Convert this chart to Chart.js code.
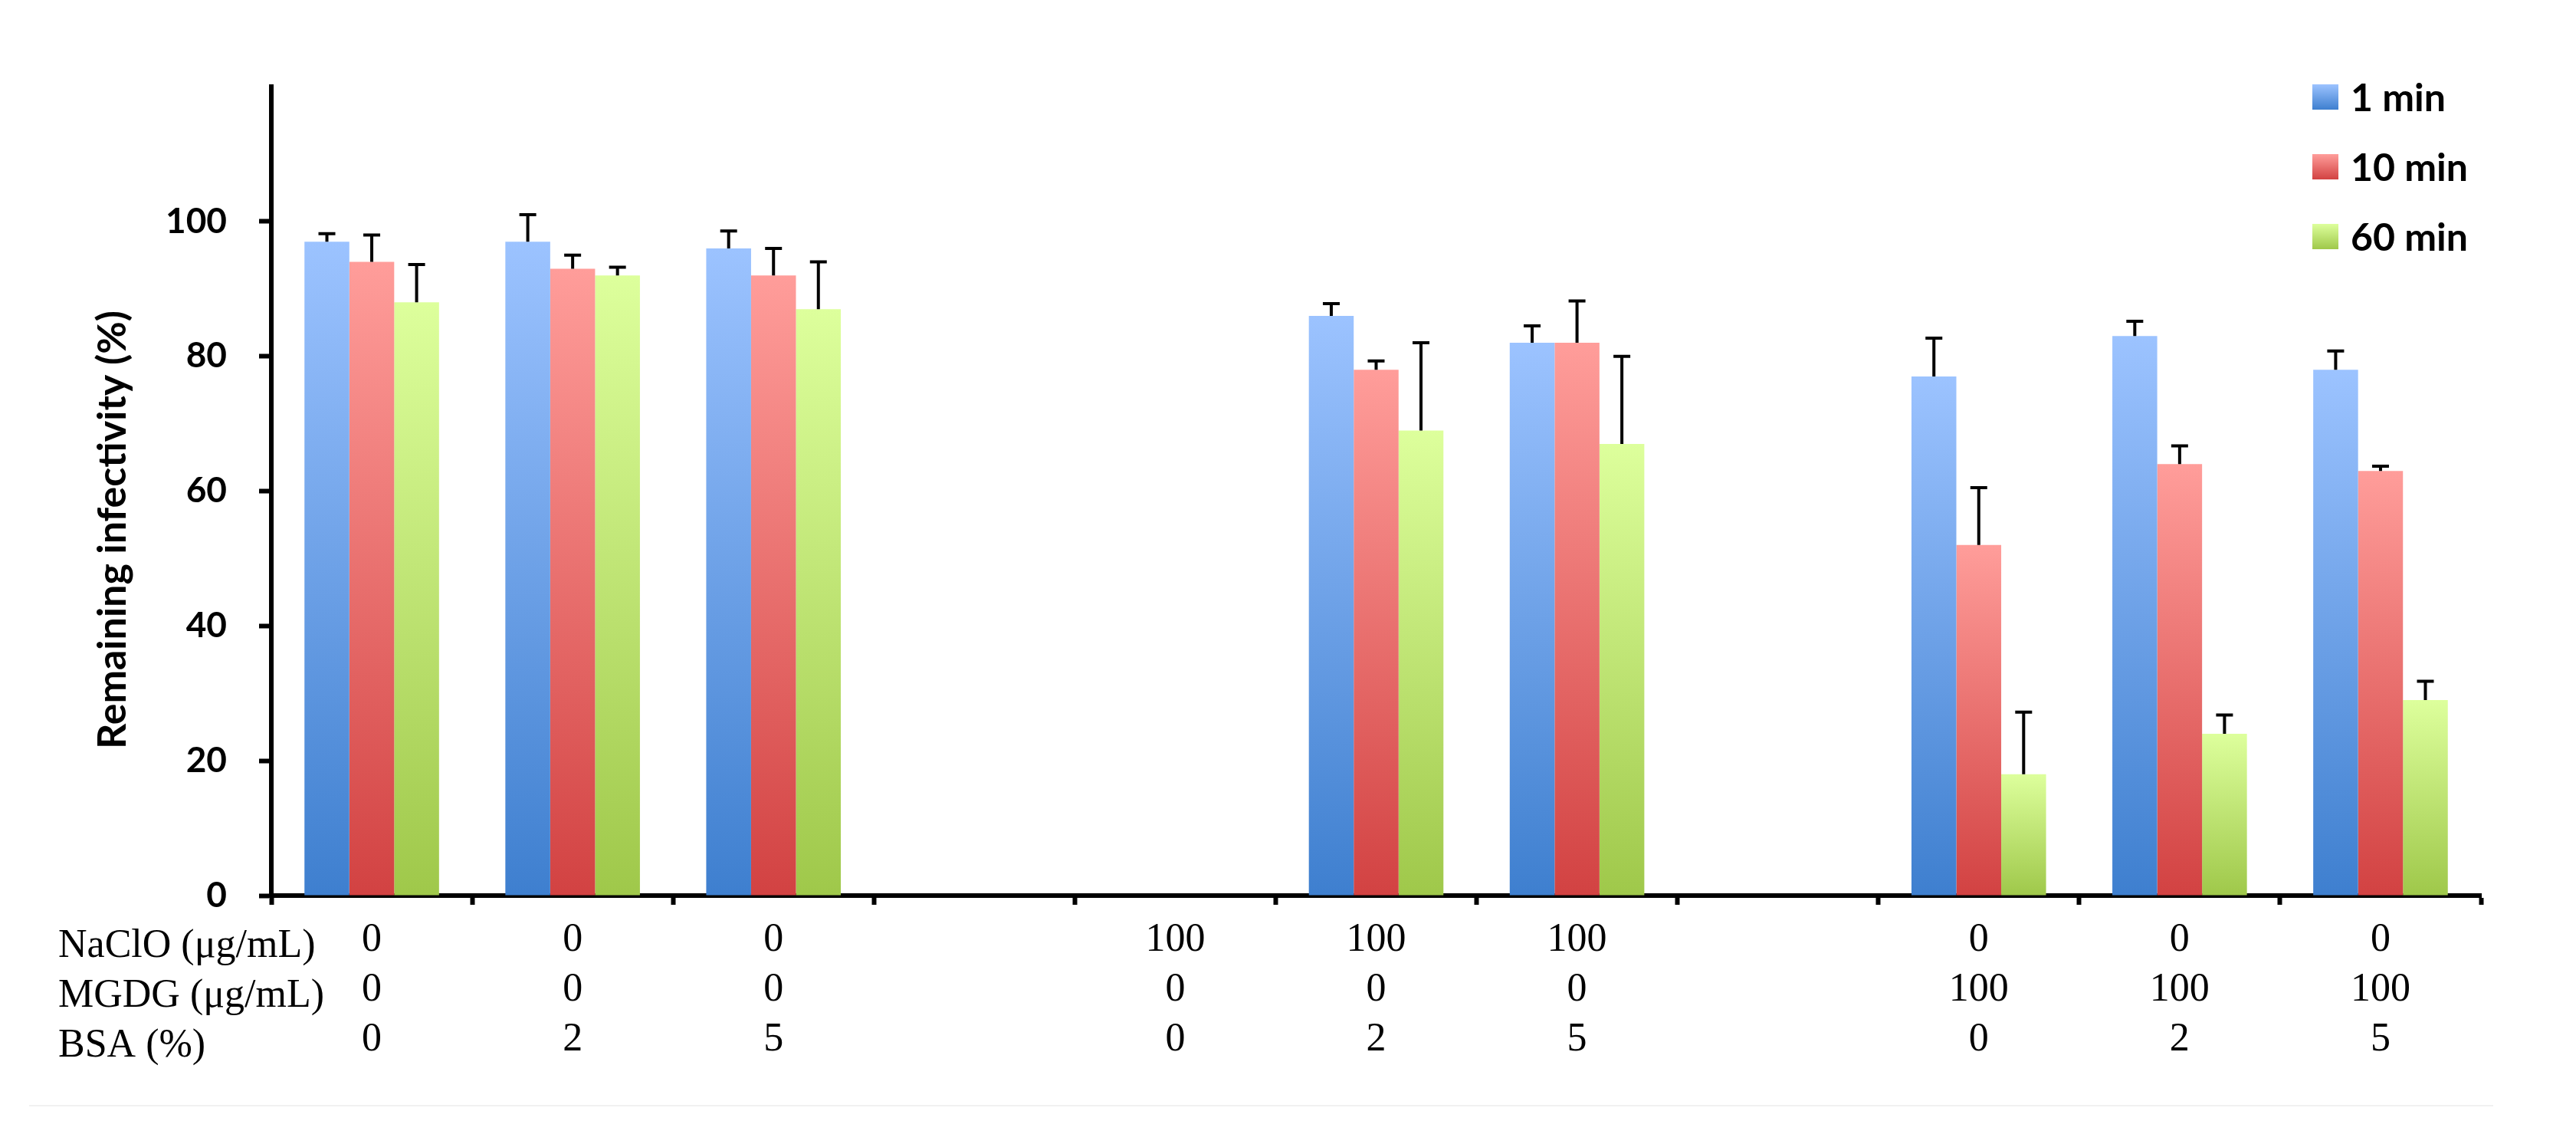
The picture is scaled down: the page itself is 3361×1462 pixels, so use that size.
<!DOCTYPE html>
<html>
<head>
<meta charset="utf-8">
<script src="https://cdn.jsdelivr.net/npm/chart.js@4/dist/chart.umd.min.js"></script>
<style>
body{margin:0;background:#fff;}
#wrap{position:relative;width:3361px;height:1462px;}
.leg{position:absolute;left:3017px;width:34px;height:33px;}
.legt{position:absolute;left:3067px;font:bold 50px Lato;color:#000;line-height:50px;}
#foot{position:absolute;left:38px;top:1441px;width:3215px;height:2px;background:#f1f1f1;}
</style>
</head>
<body>
<div id="wrap">
<canvas id="chartCanvas" width="3361" height="1462"></canvas>
<div class="leg" style="top:110px;background:linear-gradient(#9cc3ff,#3e7fcf)"></div>
<div class="legt" style="top:101px">1 min</div>
<div class="leg" style="top:201px;background:linear-gradient(#ff9d9a,#d24242)"></div>
<div class="legt" style="top:192px">10 min</div>
<div class="leg" style="top:292px;background:linear-gradient(#ddff9c,#9fc84a)"></div>
<div class="legt" style="top:283px">60 min</div>
<div id="foot"></div>
</div>
<script>
// condition rows under each bar group ('' = empty slot)
var naclo = ['0','0','0','','100','100','100','','0','0','0']
var mgdg  = ['0','0','0','','0','0','0','','100','100','100']
var bsa   = ['0','2','5','','0','2','5','','0','2','5']
var rowNames = ['NaClO (\u03bcg/mL)','MGDG (\u03bcg/mL)','BSA (%)']

// remaining infectivity (%)
var min1  = [97, 97, 96, null, 0, 86, 82, null, 77, 83, 78]
var min10 = [94, 93, 92, null, 0, 78, 82, null, 52, 64, 63]
var min60 = [88, 92, 87, null, 0, 69, 67, null, 18, 24, 29]
// upper error (SD)
var sd1  = [1.2, 4, 2.6, null, null, 1.8, 2.5, null, 5.7, 2.2, 2.8]
var sd10 = [4, 2, 4, null, null, 1.3, 6.2, null, 8.5, 2.7, 0.7]
var sd60 = [5.6, 1.2, 7, null, null, 13, 13, null, 9.2, 2.8, 2.8]

var yTicks = [0,20,40,60,80,100]

function grad(top, bottom){
	return function(c){
		var ch = c.chart
		if(!ch.chartArea || c.raw == null) return bottom
		var y = ch.scales.y
		var y1 = y.getPixelForValue(c.raw), y0 = y.getPixelForValue(0)
		if(y0 - y1 < 1) return bottom
		var g = ch.ctx.createLinearGradient(0, y1, 0, y0)
		g.addColorStop(0, top)
		g.addColorStop(1, bottom)
		return g
	}
}

var errorBars = {
	id: 'errorBars',
	afterDatasetsDraw: function(chart){
		var ctx = chart.ctx, y = chart.scales.y
		chart.data.datasets.forEach(function(ds, i){
			var meta = chart.getDatasetMeta(i)
			meta.data.forEach(function(bar, j){
				var v = ds.data[j], e = ds.sd[j]
				if(v == null || e == null) return
				var yt = y.getPixelForValue(v + e)
				ctx.save()
				ctx.strokeStyle = '#000'
				ctx.lineWidth = 4
				ctx.beginPath()
				ctx.moveTo(bar.x, bar.y)
				ctx.lineTo(bar.x, yt)
				ctx.moveTo(bar.x - 11, yt)
				ctx.lineTo(bar.x + 11, yt)
				ctx.stroke()
				ctx.restore()
			})
		})
	}
}

var extraText = {
	id: 'extraText',
	afterDraw: function(chart){
		var ctx = chart.ctx, a = chart.chartArea
		ctx.save()
		ctx.fillStyle = '#000'
		// y axis title
		ctx.translate(147, 691)
		ctx.rotate(-Math.PI/2)
		ctx.font = 'bold 52px Lato'
		ctx.textAlign = 'center'
		ctx.textBaseline = 'middle'
		ctx.fillText('Remaining infectivity (%)', 0, 0)
		ctx.restore()
		// row headers of the condition table
		ctx.save()
		ctx.fillStyle = '#000'
		ctx.font = '52px "Liberation Serif"'
		ctx.textAlign = 'left'
		ctx.textBaseline = 'alphabetic'
		rowNames.forEach(function(t, i){
			ctx.fillText(t, 76, a.bottom + 80 + i*65)
		})
		ctx.restore()
	}
}

function showResult(){
	var ctx = document.getElementById('chartCanvas').getContext('2d')
	var labels = naclo.map(function(n, i){ return [n, mgdg[i], bsa[i]] })
	var data = {
		labels: labels,
		datasets: [
		{ label: '1 min', data: min1, sd: sd1, backgroundColor: grad('#9cc3ff', '#3e7fcf') },
		{ label: '10 min', data: min10, sd: sd10, backgroundColor: grad('#ff9d9a', '#d24242') },
		{ label: '60 min', data: min60, sd: sd60, backgroundColor: grad('#ddff9c', '#9fc84a') }
		]
	}
	new Chart(ctx, {
		type: 'bar',
		data: data,
		plugins: [errorBars, extraText],
		options: {
			responsive: false,
			devicePixelRatio: 1,
			animation: false,
			layout: { padding: { top: 113, right: 124, left: 0, bottom: 0 } },
			datasets: { bar: { categoryPercentage: 0.67, barPercentage: 1.0, borderWidth: 0 } },
			plugins: { legend: { display: false }, tooltip: { enabled: false } },
			scales: {
				x: {
					afterFit: function(s){ s.height = 1462 - 1168 },
					grid: { drawOnChartArea: false, drawTicks: true, tickLength: 12, tickWidth: 6, tickColor: '#000', offset: true },
					border: { color: '#000', width: 6 },
					ticks: { color: '#000', font: { family: 'Liberation Serif', size: 52, lineHeight: 1.25 }, padding: 14, maxRotation: 0, autoSkip: false }
				},
				y: {
					min: 0, max: 120,
					afterFit: function(s){ s.width = 354 },
					afterBuildTicks: function(s){
						s.ticks = yTicks.concat([120]).map(function(v){ return { value: v } })
					},
					grid: { drawOnChartArea: false, drawTicks: true, tickLength: 16, tickWidth: 6,
						tickColor: function(c){ return c.tick && c.tick.value == 120 ? 'rgba(0,0,0,0)' : '#000' } },
					border: { color: '#000', width: 6 },
					ticks: {
						color: '#000', padding: 42,
						font: { family: 'Lato', weight: 'bold', size: 46 },
						callback: function(v){ return yTicks.indexOf(v) >= 0 ? String(v) : '' }
					}
				}
			}
		}
	})
}
showResult()
</script>
</body>
</html>
